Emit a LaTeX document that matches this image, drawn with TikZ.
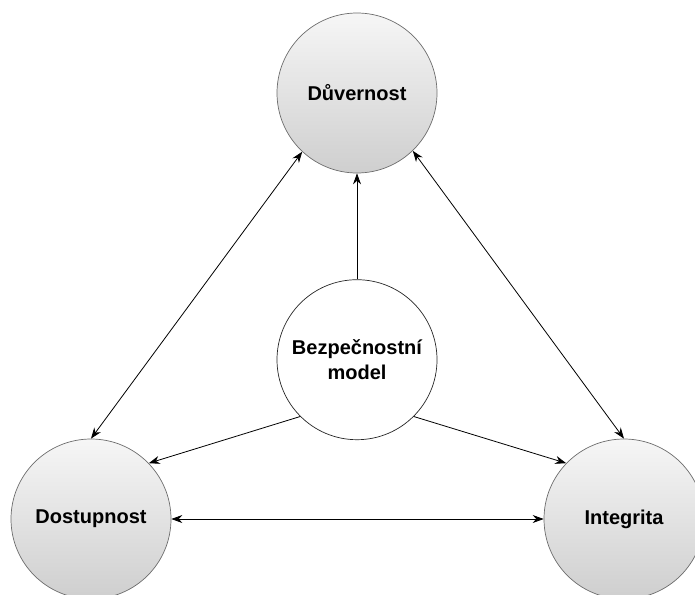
\documentclass[tikz,border=0pt]{standalone}
\usepackage{fontspec}
\setmainfont{Liberation Sans}
\usetikzlibrary{arrows.meta}
\usetikzlibrary{positioning}

\begin{document}
\begin{tikzpicture}[x=1pt,y=1pt,
    main node/.style={circle,draw=gray!85!black,line width=0.7pt,minimum size=160pt,inner sep=0pt,
      top color=gray!7,bottom color=gray!38,align=center,
      font=\bfseries\fontsize{20}{25}\selectfont},
    core node/.style={main node,draw=black!85,top color=white,bottom color=white},
    link/.style={line width=0.8pt,>={Stealth[length=11pt,width=8pt]}}]
    \useasboundingbox (0,0) rectangle (695,-594);

    \node[main node] (duv) at (357,-93) {Důvernost};
    \node[core node] (model) [below=106pt of duv] {Bezpečnostní\\model};

    \node[main node] (dost) at (91,-519) {Dostupnost};
    \node[main node] (integ) at (624,-519) {Integrita};

    \path[link]

    (model) edge[->] (duv)
    (model.225) edge[->] (dost.44)
    (model.-45) edge[->] (integ.136)

    (dost) edge[<->] (integ)
    (dost.north) edge[<->] (duv.227)
    (integ.north) edge[<->] (duv.-46);
  \end{tikzpicture}
\end{document}
